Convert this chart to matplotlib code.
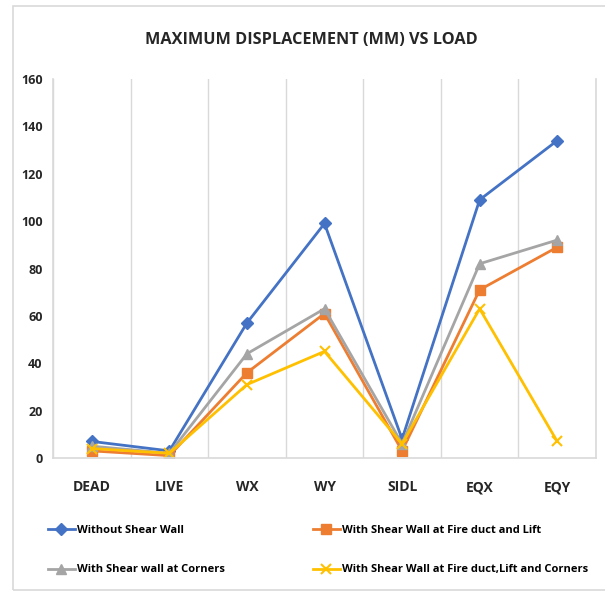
import matplotlib
matplotlib.use("Agg")
import matplotlib.pyplot as plt
from matplotlib.patches import Rectangle
from matplotlib.ticker import MultipleLocator
import numpy as np

loads = ["DEAD", "LIVE", "WX", "WY", "SIDL", "EQX", "EQY"]

without_wall = [7, 3, 57, 99, 8, 109, 134]
fire_duct_lift = [3, 1, 36, 61, 3, 71, 89]
corners = [5, 2, 44, 63, 6, 82, 92]
fire_duct_lift_corners = [4, 2, 31, 45, 6, 63, 7]

plt.rcParams['font.family'] = ['Open Sans', 'DejaVu Sans']

W, H = 605, 594
fig = plt.figure(figsize=(W / 100, H / 100), dpi=100)
# light outer chart frame
fig.patches.append(Rectangle((13 / W, 4 / H), 1.2, 584 / H, transform=fig.transFigure,
                             fill=False, edgecolor="#d9d9d9", lw=1.2))

ax = fig.add_axes([53 / W, 1 - 458 / H, 543 / W, 379 / H])
x = np.arange(len(loads))

h1, = ax.plot(x, without_wall, color="#4472C4", lw=2, marker="D", ms=6,
              label="Without Shear Wall")
h2, = ax.plot(x, fire_duct_lift, color="#ED7D31", lw=2, marker="s", ms=7,
              label="With Shear Wall at Fire duct and Lift")
h3, = ax.plot(x, corners, color="#A5A5A5", lw=2, marker="^", ms=7,
              label="With Shear wall at Corners")
h4, = ax.plot(x, fire_duct_lift_corners, color="#FFC000", lw=2, marker="x", ms=7, mew=1.5,
              label="With Shear Wall at Fire duct,Lift and Corners")

ax.set_xlim(-0.5, len(loads) - 0.5)
ax.set_ylim(0, 160)
ax.yaxis.set_major_locator(MultipleLocator(20))
ax.set_xticks(x)
ax.set_xticklabels(loads, fontsize=10, fontweight="bold", color="#262626")
ax.set_xticks(np.arange(-0.5, len(loads)), minor=True)
ax.grid(which="minor", axis="x", color="#d9d9d9", lw=1)
ax.tick_params(which="both", length=0)
ax.tick_params(axis="x", pad=16)
ax.tick_params(axis="y", pad=7.5, labelsize=9)
for t in ax.get_yticklabels():
    t.set_fontweight("bold")
    t.set_color("#262626")

ax.spines["top"].set_visible(False)
for s in ["left", "right", "bottom"]:
    ax.spines[s].set_color("#d9d9d9")
    ax.spines[s].set_linewidth(1.2)

fig.text(311 / W, 1 - 40 / H, "MAXIMUM DISPLACEMENT (MM) VS LOAD", ha="center", va="center",
         fontsize=11.7, fontweight="bold", color="#262626")

leg_kw = dict(loc="center left", frameon=False, borderpad=0, borderaxespad=0,
              handlelength=2.4, handletextpad=0.2, labelspacing=2.6,
              prop={"weight": "bold", "size": 8})
fig.legend(handles=[h1, h3], bbox_to_anchor=(48 / W, 1 - 550 / H), **leg_kw)
fig.legend(handles=[h2, h4], bbox_to_anchor=(313 / W, 1 - 550 / H), **leg_kw)

fig.savefig("out.png", dpi=100)
